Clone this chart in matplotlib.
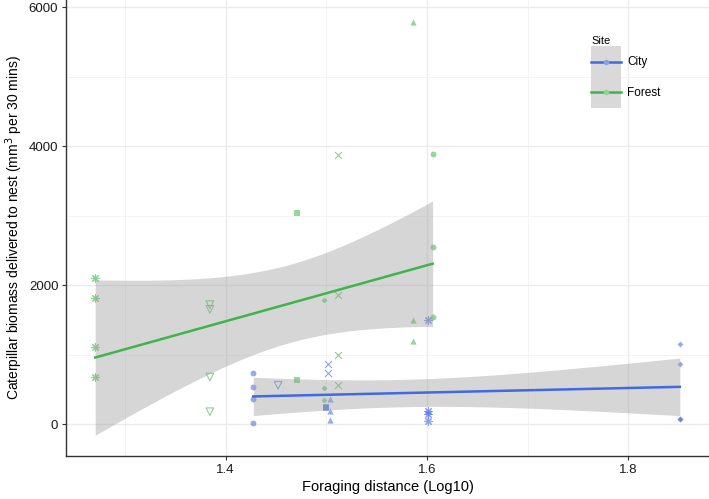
import math
import numpy as np
import matplotlib
matplotlib.use("Agg")
import matplotlib.pyplot as plt
from matplotlib.lines import Line2D
from matplotlib.patches import Patch
from matplotlib.legend_handler import HandlerLine2D

plt.rcParams['font.family'] = ['Liberation Sans', 'DejaVu Sans']

# forest nests: log10 distance, marker, biomass values
forest_x = [1.2704, 1.3843, 1.4709, 1.4978, 1.5116, 1.5856, 1.6055]
forest_m = ['ast', 'v', 's', 'D', 'x', '^', 'o']
forest_y = [[2105, 1809, 1104, 676],
            [1717, 1650, 676, 177],
            [3032, 633],
            [1784, 522, 345],
            [3867, 1852, 993, 561],
            [5785, 1497, 1194],
            [3885, 2543, 1544]]

# city nests
city_x = [1.4274, 1.452, 1.5017, 1.4993, 1.504, 1.6005, 1.851]
city_m = ['o', 'v', 'x', 's', '^', 'ast', 'D']
city_y = [[729, 528, 365, 19],
          [557],
          [859, 729],
          [240, 235],
          [355, 192, 58],
          [1492, 190, 150, 40],
          [1147, 868, 72, 72]]

col_city = '#4169E1'
col_forest = '#3DB54A'

x_ticks = [1.4, 1.6, 1.8]
y_ticks = [0, 2000, 4000, 6000]


def t_quantile(p, df):
    # quantile of student t by integrating pdf
    c = math.exp(math.lgamma((df + 1) / 2) - math.lgamma(df / 2)) / math.sqrt(df * math.pi)
    t = np.linspace(0, 10, 20001)
    pdf = c * (1 + t ** 2 / df) ** (-(df + 1) / 2)
    cdf = 0.5 + np.concatenate([[0], np.cumsum((pdf[1:] + pdf[:-1]) / 2 * np.diff(t))])
    return float(np.interp(p, cdf, t))


def lm_band(x, y):
    x = np.asarray(x, float)
    y = np.asarray(y, float)
    n = len(x)
    xb, yb = x.mean(), y.mean()
    sxx = ((x - xb) ** 2).sum()
    b = ((x - xb) * (y - yb)).sum() / sxx
    a = yb - b * xb
    s = math.sqrt(((y - a - b * x) ** 2).sum() / (n - 2))
    xs = np.linspace(x.min(), x.max(), 80)
    fit = a + b * xs
    se = s * np.sqrt(1 / n + (xs - xb) ** 2 / sxx)
    tq = t_quantile(0.975, n - 2)
    return xs, fit, fit - tq * se, fit + tq * se


def flat(xs, ys):
    fx, fy = [], []
    for xv, yv in zip(xs, ys):
        fx += [xv] * len(yv)
        fy += yv
    return fx, fy


class CenteredLine(HandlerLine2D):
    # put the key line in the middle of the grey key box
    def create_artists(self, legend, orig_handle, xdescent, ydescent, width, height, fontsize, trans):
        arts = super().create_artists(legend, orig_handle, xdescent, ydescent, width, height, fontsize, trans)
        for a in arts:
            a.set_ydata(np.full(len(a.get_ydata()), height / 2 - ydescent))
        return arts


mk = {'ast': (8, 2, 0), 'v': 'v', 's': 's', 'D': 'D', 'x': 'x', '^': '^', 'o': 'o'}
msz = {'ast': 30, 'v': 30, 's': 18, 'D': 9, 'x': 25, '^': 20, 'o': 18}

fig = plt.figure(figsize=(7.09, 4.99), dpi=100)
ax = fig.add_axes([66 / 709, 43 / 499, 643 / 709, 456 / 499])

for xs, ys, ms, col in [(city_x, city_y, city_m, col_city), (forest_x, forest_y, forest_m, col_forest)]:
    for xv, yv, m in zip(xs, ys, ms):
        xx = [xv] * len(yv)
        if m == 'v':
            ax.scatter(xx, yv, marker='v', s=msz[m], facecolors='none', edgecolors=col,
                       linewidths=0.8, alpha=0.6, zorder=2)
        elif m in ('x', 'ast'):
            ax.scatter(xx, yv, marker=mk[m], s=msz[m], color=col, linewidths=0.8,
                       alpha=0.6, zorder=2)
        else:
            ax.scatter(xx, yv, marker=mk[m], s=msz[m], color=col, linewidths=0,
                       alpha=0.55, zorder=2)

for xs, ys, col in [(city_x, city_y, col_city), (forest_x, forest_y, col_forest)]:
    fx, fy = flat(xs, ys)
    gx, fit, lo, hi = lm_band(fx, fy)
    ax.fill_between(gx, lo, hi, color='#999999', alpha=0.4, linewidth=0, zorder=3)
    ax.plot(gx, fit, color=col, linewidth=1.8, zorder=4)

ax.set_xlim(1.2414, 1.880)
ax.set_ylim(-460, 6101)
ax.set_xticks(x_ticks)
ax.set_xticks([1.3, 1.5, 1.7], minor=True)
ax.set_yticks(y_ticks)
ax.set_yticks([1000, 3000, 5000], minor=True)
ax.set_xticklabels([str(v) for v in x_ticks])
ax.grid(True, which='major', color='#ebebeb', linewidth=1.0, zorder=0)
ax.grid(True, which='minor', color='#f2f2f2', linewidth=0.6, zorder=0)
ax.set_axisbelow(True)
for sp in ['top', 'right']:
    ax.spines[sp].set_visible(False)
for sp in ['left', 'bottom']:
    ax.spines[sp].set_color('#333333')
    ax.spines[sp].set_linewidth(1.0)
ax.tick_params(which='major', length=3, width=0.8, color='#333333', labelsize=9.5,
               labelcolor='#1a1a1a', pad=2.5)
ax.tick_params(which='minor', length=0)

ax.set_xlabel('Foraging distance (Log10)', fontsize=10.5, labelpad=3)
ax.set_ylabel('Caterpillar biomass delivered to nest (mm$^3$ per 30 mins)', fontsize=10, labelpad=3)

handles = [(Patch(facecolor='#d9d9d9', edgecolor='none'),
            Line2D([], [], color=col_city, linewidth=1.8, marker='o', markersize=4,
                   markerfacecolor='#8aa0ee', markeredgewidth=0)),
           (Patch(facecolor='#d9d9d9', edgecolor='none'),
            Line2D([], [], color=col_forest, linewidth=1.8, marker='o', markersize=4,
                   markerfacecolor='#8fd594', markeredgewidth=0))]
leg = ax.legend(handles, ['City', 'Forest'], title='Site', loc='upper left',
                bbox_to_anchor=(0.817, 0.92), frameon=False, fontsize=8.5,
                title_fontsize=8, handlelength=2.55, handleheight=3.6,
                labelspacing=0, handletextpad=0.5, borderpad=0, borderaxespad=0,
                handler_map={Line2D: CenteredLine()})
leg._legend_box.align = 'left'

fig.savefig('out.png', dpi=100)
